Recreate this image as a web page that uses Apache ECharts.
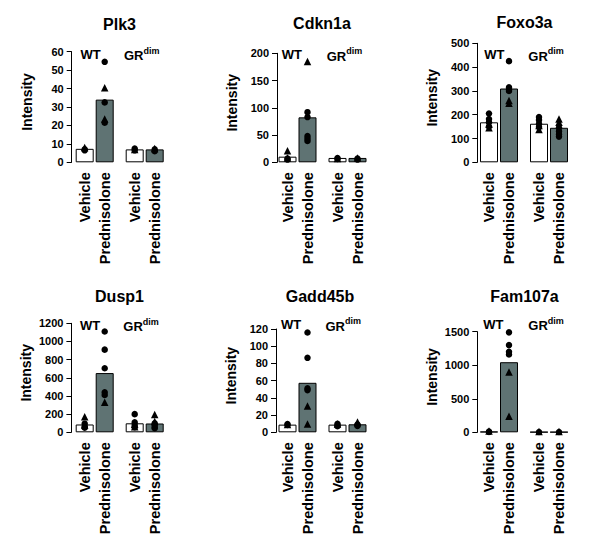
<!DOCTYPE html>
<html><head><meta charset="utf-8">
<script src="https://cdn.jsdelivr.net/npm/echarts@6/dist/echarts.min.js"></script>
<style>html,body{margin:0;padding:0;background:#fff}#c{width:600px;height:557px}</style>
</head><body><div id="c"></div>
<script>
// ---------------- data ----------------
const genes = ['Plk3', 'Cdkn1a', 'Foxo3a', 'Dusp1', 'Gadd45b', 'Fam107a'];
const treatments = ['Vehicle', 'Prednisolone'];
const groupNames = ['WT', 'GR', 'dim'];
const yAxisName = 'Intensity';
const yMax = [60, 200, 500, 1200, 120, 1500];
const yStep = [10, 50, 100, 200, 20, 500];

// bar means: [WT Vehicle, WT Prednisolone, GRdim Vehicle, GRdim Prednisolone]
const plk3Means = [7.3, 34, 7, 7];
const plk3Circles = [[6.5, 7], [54.5, 32.5, 21.5], [7.5, 6.5], [7, 6]];
const plk3Triangles = [[8], [40.5, 23.5], [7], [7.5]];

const cdkn1aMeans = [10.3, 82.5, 8, 8];
const cdkn1aCircles = [[7, 5], [92, 83, 48, 43, 39], [8, 6], [7, 5]];
const cdkn1aTriangles = [[21, 8], [185], [7], [8]];

const foxo3aMeans = [168, 310, 162, 145];
const foxo3aCircles = [[205, 182, 168, 150], [425, 315, 308, 300], [190, 178, 162, 148], [145, 130, 118, 108]];
const foxo3aTriangles = [[160, 145], [260, 248], [138, 155], [182, 168]];

const dusp1Means = [86, 652, 99, 97];
const dusp1Circles = [[95, 62, 50], [1110, 910, 705, 440, 410], [200, 110, 80, 55], [100, 80, 55, 45]];
const dusp1Triangles = [[172, 80], [330], [60, 90], [195, 120]];

const gadd45bMeans = [8.9, 57.5, 8.9, 9.3];
const gadd45bCircles = [[8.5, 9.5], [116, 86.5, 51, 49], [10, 8, 7], [9, 8, 7.5]];
const gadd45bTriangles = [[9], [30.5, 9.5], [9.5], [12]];

const fam107aMeans = [10, 1045, 5, 5];
const fam107aCircles = [[10, 5], [1490, 1300, 1200, 1160], [5], [5]];
const fam107aTriangles = [[20], [900, 240], [12], [12]];

const allMeans = [plk3Means, cdkn1aMeans, foxo3aMeans, dusp1Means, gadd45bMeans, fam107aMeans];
const allCircles = [plk3Circles, cdkn1aCircles, foxo3aCircles, dusp1Circles, gadd45bCircles, fam107aCircles];
const allTriangles = [plk3Triangles, cdkn1aTriangles, foxo3aTriangles, dusp1Triangles, gadd45bTriangles, fam107aTriangles];

// ---------------- layout / style ----------------
const FONT = "'Liberation Sans', Arial, Helvetica, sans-serif";
const BAR_DARK = '#5f7373';
const layout = [
  {top: 51.7, bottom: 162.3, wtLeft: 74.7, axisOff: 3, titleX: 119.5, titleY: 24, wtX: 80.5, grX: 124, labY: 54},
  {top: 53.3, bottom: 162.3, wtLeft: 277.5, axisOff: 0.5, titleX: 322, titleY: 23.5, wtX: 281.7, grX: 326.7, labY: 54.5},
  {top: 43.3, bottom: 162.3, wtLeft: 479, axisOff: 1.7, titleX: 524.5, titleY: 22.5, wtX: 484.3, grX: 528.3, labY: 54.5},
  {top: 323.3, bottom: 432.3, wtLeft: 74.7, axisOff: 3.3, titleX: 119.5, titleY: 296, wtX: 80, grX: 123.3, labY: 325},
  {top: 329, bottom: 432.3, wtLeft: 277.5, axisOff: 1.5, titleX: 320, titleY: 296, wtX: 281, grX: 325.5, labY: 324.5},
  {top: 331.7, bottom: 432.3, wtLeft: 479, axisOff: 1.7, titleX: 524.5, titleY: 296, wtX: 483.3, grX: 528.3, labY: 324}
];
const GRID_W = 40, GROUP_GAP = 50, H = 557;

const grids = [], xAxes = [], yAxes = [], series = [], graphics = [];

genes.forEach((gene, p) => {
  const L = layout[p];
  for (let g = 0; g < 2; g++) {
    const idx = grids.length;
    grids.push({left: L.wtLeft + g * GROUP_GAP, top: L.top, width: GRID_W, bottom: H - L.bottom, containLabel: false});
    xAxes.push({
      gridIndex: idx, type: 'category', data: treatments,
      axisLine: {show: false}, axisTick: {show: false}, splitLine: {show: false},
      axisLabel: {rotate: 90, interval: 0, margin: 10, color: '#000', fontSize: 14.5, fontWeight: 'bold', fontFamily: FONT}
    });
    const y = {
      gridIndex: idx, type: 'value', min: 0, max: yMax[p], interval: yStep[p],
      splitLine: {show: false}
    };
    if (g === 0) {
      Object.assign(y, {
        offset: L.axisOff,
        axisLine: {show: true, lineStyle: {color: '#000', width: 1}},
        axisTick: {show: true, length: 5, lineStyle: {color: '#000', width: 1}},
        axisLabel: {color: '#000', fontSize: 11, fontWeight: 'bold', fontFamily: FONT, margin: 8,
          formatter: v => String(v)},
        name: yAxisName, nameLocation: 'middle', nameGap: 38,
        nameTextStyle: {color: '#000', fontSize: 14, fontWeight: 'bold', fontFamily: FONT, padding: [0, 0, 0, 10]}
      });
    } else {
      y.show = false;
    }
    yAxes.push(y);
    const means = allMeans[p].slice(g * 2, g * 2 + 2);
    series.push({
      type: 'bar', xAxisIndex: idx, yAxisIndex: idx, barWidth: 18, silent: true, z: 2,
      itemStyle: {borderColor: '#000', borderWidth: 1},
      data: means.map((m, k) => ({value: m, itemStyle: {color: k === 0 ? '#fff' : BAR_DARK}}))
    });
    const circ = [], tri = [];
    for (let k = 0; k < 2; k++) {
      allCircles[p][g * 2 + k].forEach(v => circ.push([k, v]));
      allTriangles[p][g * 2 + k].forEach(v => tri.push([k, v]));
    }
    series.push({type: 'scatter', xAxisIndex: idx, yAxisIndex: idx, symbol: 'circle', symbolSize: 6.5, z: 5, silent: true,
      itemStyle: {color: '#000', opacity: 1}, data: circ});
    series.push({type: 'scatter', xAxisIndex: idx, yAxisIndex: idx, symbol: 'triangle', symbolSize: 7.5, z: 5, silent: true,
      itemStyle: {color: '#000', opacity: 1}, data: tri});
  }
  graphics.push({type: 'text', x: L.titleX, y: L.titleY, style: {
    text: gene, font: 'bold 16px ' + FONT, fill: '#000', textAlign: 'center', textVerticalAlign: 'middle', align: 'center', verticalAlign: 'middle'}});
  graphics.push({type: 'text', x: L.wtX, y: L.labY, style: {
    text: groupNames[0], font: 'bold 13px ' + FONT, fill: '#000', textAlign: 'left', textVerticalAlign: 'middle', align: 'left', verticalAlign: 'middle'}});
  graphics.push({type: 'text', x: L.grX, y: L.labY, style: {
    text: '{a|' + groupNames[1] + '}{b|' + groupNames[2] + '}', fill: '#000', textAlign: 'left', textVerticalAlign: 'middle', align: 'left', verticalAlign: 'middle',
    rich: {
      a: {font: 'bold 13px ' + FONT, fill: '#000', lineHeight: 16, verticalAlign: 'bottom'},
      b: {font: 'bold 9px ' + FONT, fill: '#000', lineHeight: 10, verticalAlign: 'top'}
    }}});
});

const chart = echarts.init(document.getElementById('c'), null, {renderer: 'svg'});
chart.setOption({
  animation: false,
  backgroundColor: '#fff',
  grid: grids, xAxis: xAxes, yAxis: yAxes, series: series,
  graphic: {elements: graphics}
});
</script></body></html>
